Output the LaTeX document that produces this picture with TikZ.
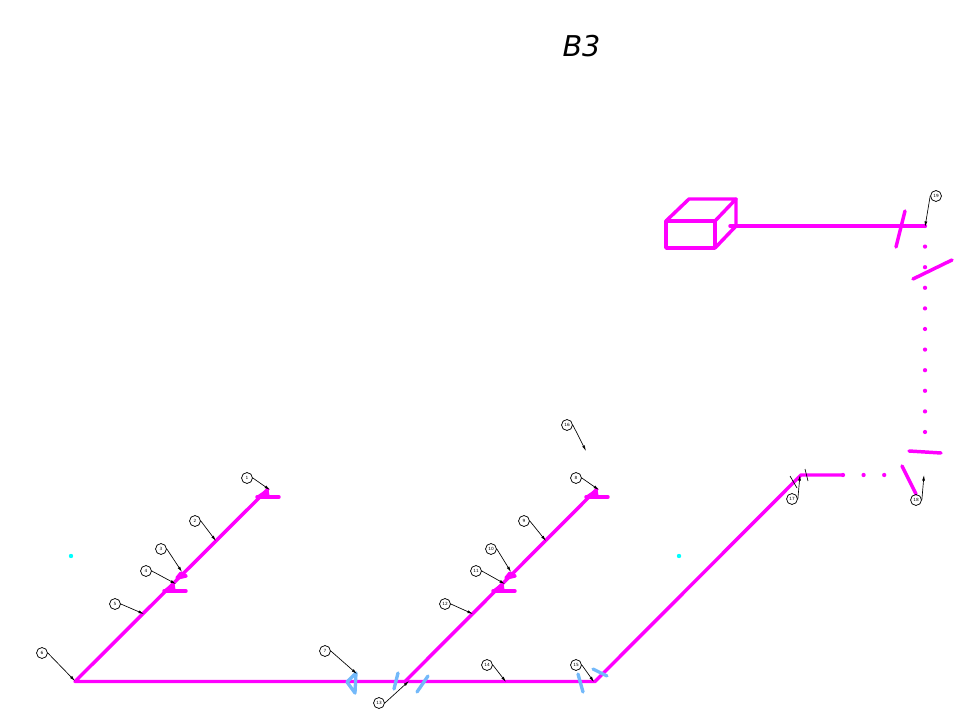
\documentclass[tikz,border=0pt]{standalone}
\usepackage{fontspec}
\setmainfont{DejaVu Sans}
\usetikzlibrary{arrows.meta}
\definecolor{pipecol}{RGB}{255,0,255}
\definecolor{valvecol}{RGB}{115,185,250}
\definecolor{markcol}{RGB}{0,255,255}
\tikzset{
  pipe/.style={draw=pipecol,line width=2.6pt,line cap=round,line join=round},
  valve/.style={draw=valvecol,line width=2.5pt,line cap=round,line join=round},
  dotpipe/.style={pipe,line width=3.2pt,dash pattern=on 0pt off 15.45pt},
  callout/.style={circle,draw,line width=0.55pt,inner sep=0pt,minimum size=8.2pt,font=\fontsize{3.2}{3.2}\selectfont},
  leader/.style={draw,line width=0.5pt,-{Latex[length=4.2pt,width=2.2pt]}},
}
\begin{document}
\begin{tikzpicture}[x=0.75pt,y=-0.75pt]
  \useasboundingbox (0,0) rectangle (967,716);
  \node[font=\itshape\fontsize{21.5}{24}\selectfont] (title) at (581.5,46) {B3};
  % pipe points
  \coordinate (p1) at (75,681.5);
  \coordinate (p2) at (268,489);
  \coordinate (p3) at (405,681.5);
  \coordinate (p4) at (597,489);
  \coordinate (p5) at (595,681.5);
  \coordinate (p6) at (801,475);
  \coordinate (p7) at (843,475);
  \coordinate (p8) at (904,475);
  \coordinate (p9) at (925,226);
  \coordinate (p10) at (925,433);
  \coordinate (p11) at (730,226);
  \path[pipe] (p2) -- (p1) -- (p5) -- (p6) -- (p7);
  \path[pipe] (p3) -- (p4);
  \path[pipe] (p11) -- (p9);
  \path[dotpipe] (p7) -- (p8);
  \path[dotpipe] (p9) -- (p10);
  % box
  \path[pipe] (666,221) rectangle (715,248);
  \path[pipe] (666,221) -- (689,199) -- (736,199) -- (715,221);
  \path[pipe] (736,199) -- (736,226) -- (715,248);
  % flanges
  \path[pipe,fill=pipecol] (258,497) -- (267,491) -- (268,497) -- cycle;
  \path[pipe,fill=pipecol] (587,497) -- (596,491) -- (597,497) -- cycle;
  \path[pipe,fill=pipecol] (165,591) -- (173,585) -- (174,591) -- cycle;
  \path[pipe,fill=pipecol] (494,591) -- (502,585) -- (503,591) -- cycle;
  \path[pipe] (257,497) -- (279,497);
  \path[pipe] (586,497) -- (608,497);
  \path[pipe] (164,591) -- (186,591);
  \path[pipe] (493,591) -- (515,591);
  \path[pipe,fill=pipecol] (177,578) -- (186,576) -- (181,573) -- cycle;
  \path[pipe,fill=pipecol] (506,578) -- (515,576) -- (510,573) -- cycle;
  \path[pipe] (905,211) -- (896,247);
  \path[pipe] (913,279) -- (952,260);
  \path[pipe] (909,451) -- (941,453);
  \path[pipe] (902,466) -- (916,494);
  % blue valves
  \path[valve] (356,673) -- (347,682) -- (355,693) -- cycle;
  \path[valve] (398,673) -- (394,689);
  \path[valve] (428,676) -- (417,692);
  \path[valve] (578,674) -- (583,692);
  \path[valve] (593,669) -- (607,676);
  % black ticks
  \draw[line width=0.5pt] (790,476) -- (797,488);
  \draw[line width=0.5pt] (805,469) -- (808,481);
  % cyan dots
  \fill[markcol] (71,556) circle (2.2);
  \fill[markcol] (679,556) circle (2.2);
  % callouts
  \node[callout] (c1) at (247,478) {1};
  \node[callout] (c2) at (195,521) {2};
  \node[callout] (c3) at (161,549) {3};
  \node[callout] (c4) at (146,571) {4};
  \node[callout] (c5) at (115,604) {5};
  \node[callout] (c6) at (42,653) {6};
  \node[callout] (c7) at (325,651) {7};
  \node[callout] (c8) at (576,478) {8};
  \node[callout] (c9) at (524,521) {9};
  \node[callout] (c10) at (491,549) {10};
  \node[callout] (c11) at (476,571) {11};
  \node[callout] (c12) at (445,604) {12};
  \node[callout] (c13) at (379,703) {13};
  \node[callout] (c14) at (487,665) {14};
  \node[callout] (c15) at (576,665) {15};
  \node[callout] (c16) at (567,425) {16};
  \node[callout] (c17) at (792,499) {17};
  \node[callout] (c18) at (916,500) {18};
  \node[callout] (c19) at (936,196) {19};
  \coordinate (t1) at (270,490);
  \coordinate (t2) at (216,541);
  \coordinate (t3) at (182,572);
  \coordinate (t4) at (176,584);
  \coordinate (t5) at (144,614);
  \coordinate (t6) at (75,681);
  \coordinate (t7) at (357,674);
  \coordinate (t8) at (599,490);
  \coordinate (t9) at (546,541);
  \coordinate (t10) at (511,572);
  \coordinate (t11) at (505,584);
  \coordinate (t12) at (473,614);
  \coordinate (t13) at (409,681);
  \coordinate (t14) at (506,682);
  \coordinate (t15) at (594,682);
  \coordinate (t16) at (586,451);
  \coordinate (t17) at (800,475);
  \coordinate (t18) at (924,475);
  \coordinate (t19) at (925,227);
  \foreach \i in {1,...,18}
    \draw[leader] (c\i.east) -- (t\i);
  \draw[leader] (c19.west) -- (t19);
\end{tikzpicture}
\end{document}
